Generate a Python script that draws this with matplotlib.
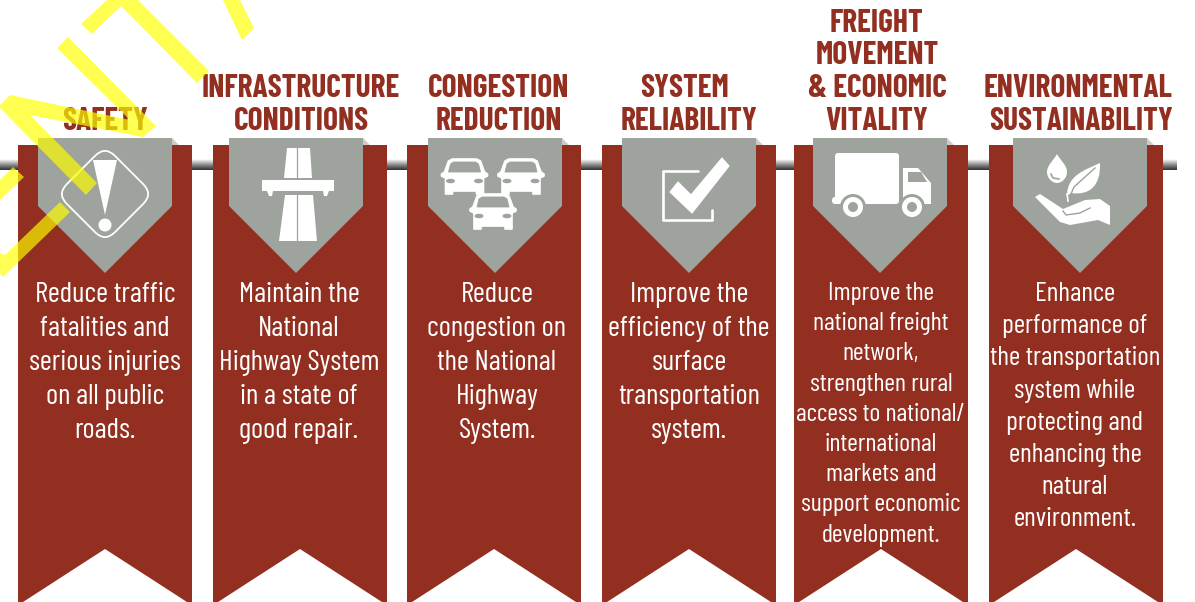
import numpy as np
import matplotlib
matplotlib.use("Agg")
import matplotlib.pyplot as plt
from matplotlib.patches import Polygon, Circle, Ellipse, FancyBboxPatch, PathPatch
from matplotlib.path import Path
from matplotlib.transforms import Affine2D

plt.rcParams["font.family"] = ["Barlow Condensed", "Roboto Condensed", "Liberation Sans", "DejaVu Sans"]

# --- content ---
titles = [
    ["SAFETY"],
    ["INFRASTRUCTURE", "CONDITIONS"],
    ["CONGESTION", "REDUCTION"],
    ["SYSTEM", "RELIABILITY"],
    ["FREIGHT", "MOVEMENT", "& ECONOMIC", "VITALITY"],
    ["ENVIRONMENTAL", "SUSTAINABILITY"],
]
bodies = [
    ["Reduce traffic", "fatalities and", "serious injuries", "on all public", "roads."],
    ["Maintain the", "National", "Highway System", "in a state of", "good repair."],
    ["Reduce", "congestion on", "the National", "Highway", "System."],
    ["Improve the", "efficiency of the", "surface", "transportation", "system."],
    ["Improve the", "national freight", "network,", "strengthen rural", "access to national/",
     "international", "markets and", "support economic", "development."],
    ["Enhance", "performance of", "the transportation", "system while", "protecting and",
     "enhancing the", "natural", "environment."],
]

# --- layout, in pixels of the 1195x602 picture ---
RED = "#922F20"
GRAY = "#9EA39D"
FOLD = "#C9CCC7"
banner_left = [18, 213, 407, 602, 794, 989]
banner_w = 174
plate_left = [38, 229, 428, 622, 813, 1013]
plate_w = 134
body_center = [105, 299, 497, 689, 881, 1075]
body_size = [29, 29, 29, 29, 26, 27.5]
body_start = [302, 302, 302, 302, 300, 301]
body_step = [34, 34, 34, 34, 30.2, 32.2]
title_centers = [[105], [301, 301], [499, 499], [685, 689], [877, 877, 877, 877], [1078, 1081]]


def px(v):
    return v * 0.72  # pixels to points at dpi 100


fig = plt.figure(figsize=(11.95, 6.02), dpi=100)
ax = fig.add_axes([0, 0, 1, 1])

# the rod behind the banners
rod = np.linspace(0, 1, 32).reshape(-1, 1)
rod_cmap = matplotlib.colors.LinearSegmentedColormap.from_list(
    "rod", ["#FFFFFF", "#B5B5B5", "#6E6E6E", "#333333"])
ax.imshow(rod, extent=(0, 1177, 170, 159), cmap=rod_cmap, aspect="auto", zorder=1)
ax.set_xlim(0, 1195)
ax.set_ylim(602, 0)
ax.axis("off")


def white_poly(pts, color="white", z=5):
    ax.add_patch(Polygon(pts, closed=True, fc=color, ec="none", zorder=z))


for i in range(6):
    x0 = banner_left[i]
    x1 = x0 + banner_w
    mid = (x0 + x1) / 2
    white_poly([(x0, 145), (x1, 145), (x1, 602), (x1 - 5, 602), (mid, 549), (x0 + 5, 602), (x0, 602)], RED, 2)
    p0 = plate_left[i]
    p1 = p0 + plate_w
    pc = (p0 + p1) / 2
    white_poly([(p1, 138), (p1 + 7, 145), (p1, 145)], FOLD, 3)
    white_poly([(p0, 138), (p1, 138), (p1, 206), (pc, 273), (p0, 206)], GRAY, 3)

    # heading, last line sits on the same baseline for all banners
    n = len(titles[i])
    for j, line in enumerate(titles[i]):
        ax.text(title_centers[i][j], 129.5 - 32.5 * (n - 1 - j), line, color=RED, ha="center", va="baseline",
                fontsize=px(31.5), fontweight="bold", zorder=4)
    for j, line in enumerate(bodies[i]):
        ax.text(body_center[i], body_start[i] + body_step[i] * j, line, color="white", ha="center", va="baseline",
                fontsize=px(body_size[i]), zorder=4)

# warning icon
diamond = FancyBboxPatch((105 - 20, 194 - 20), 40, 40, boxstyle="round,pad=14,rounding_size=14",
                         fc="none", ec="white", lw=1.3, zorder=5)
diamond.set_transform(Affine2D().rotate_deg_around(105, 194, 45) + ax.transData)
ax.add_patch(diamond)
white_poly([(93, 160), (117, 160), (105, 215)])
ax.add_patch(Circle((105, 225), 6.5, fc="white", ec="none", zorder=5))

# road icon
white_poly([(287, 148), (310, 148), (312, 178), (284, 178)])
white_poly([(285, 195), (313, 195), (317, 241), (279, 241)])
white_poly([(262, 180), (334, 180), (334, 191), (262, 191)])
white_poly([(267, 191), (273, 191), (272, 196), (269, 196)])
white_poly([(323, 191), (329, 191), (327, 196), (324, 196)])
for yy in [(148, 178), (195, 241)]:
    ax.plot([297.5, 297.5], yy, color=GRAY, lw=0.9, zorder=6)


def car(cx, top):
    shape = [(-12, 1), (12, 1), (16, 3), (20, 14), (23, 16), (23, 18), (19, 20), (19, 36), (12, 36), (12, 33),
             (-12, 33), (-12, 36), (-19, 36), (-19, 20), (-23, 18), (-23, 16), (-20, 14), (-16, 3)]
    ax.add_patch(Polygon([(cx + a, top + b) for a, b in shape], closed=True, fc="white", ec="white",
                         lw=1.2, joinstyle="round", zorder=5))
    glass = [(-11, 4), (11, 4), (14, 6), (16, 14), (-16, 14), (-14, 6)]
    ax.add_patch(Polygon([(cx + a, top + b) for a, b in glass], closed=True, fc=GRAY, ec=GRAY,
                         lw=0.6, joinstyle="round", zorder=6))
    for side in (-1, 1):
        ax.add_patch(Ellipse((cx + side * 14, top + 23), 9, 4.5, fc=GRAY, ec="none", zorder=6))


car(464.5, 158)
car(521, 158)
car(493, 193)

# check icon
ax.plot([698, 663, 663, 712, 712], [171, 171, 220, 220, 210], color="white", lw=1.9,
        solid_joinstyle="round", solid_capstyle="round", zorder=5)
ax.add_patch(Polygon([(670, 192), (678, 182), (691, 195), (722, 158), (729, 166), (692, 213)], closed=True,
                     fc="white", ec="white", lw=0.8, joinstyle="round", zorder=5))

# truck icon
ax.add_patch(FancyBboxPatch((837, 155), 60, 47, boxstyle="round,pad=2,rounding_size=3", fc="white", ec="none", zorder=5))
white_poly([(903, 168), (918, 168), (931, 183), (931, 204), (903, 204)])
white_poly([(908, 172), (921, 172), (927, 182), (908, 182)], GRAY, 6)
ax.add_patch(FancyBboxPatch((833, 198), 8, 5, boxstyle="round,pad=1,rounding_size=3", fc="white", ec="none", zorder=5))
for wx in (853, 912):
    ax.add_patch(Circle((wx, 207), 13, fc=GRAY, ec="none", zorder=6))
    ax.add_patch(Circle((wx, 207), 10, fc="white", ec="none", zorder=7))
    ax.add_patch(Circle((wx, 207), 5, fc=GRAY, ec="none", zorder=8))

# plant icon
drop = Path([(1057, 154), (1060, 160), (1067, 165), (1067, 172), (1067, 178), (1062, 183), (1057, 183),
             (1052, 183), (1047, 178), (1047, 172), (1047, 165), (1054, 160), (1057, 154)],
            [Path.MOVETO] + [Path.CURVE4] * 12)
ax.add_patch(PathPatch(drop, fc="white", ec="none", zorder=5))
ax.plot([1051, 1053, 1059], [174, 178, 179], color=GRAY, lw=1.2, zorder=6)
leaf = Path([(1067, 196), (1067, 175), (1085, 170), (1100, 163), (1101, 185), (1090, 196), (1071, 193), (1067, 196)],
            [Path.MOVETO] + [Path.CURVE4] * 6 + [Path.LINETO])
ax.add_patch(PathPatch(leaf, fc="white", ec="none", zorder=5))
ax.plot([1068, 1074, 1085, 1095], [201, 187, 177, 168], color=GRAY, lw=1, zorder=6)
ax.plot([1068, 1067], [201, 194], color="white", lw=1.2, zorder=6)
white_poly([(1035, 197), (1040, 194), (1063, 209), (1085, 200), (1100, 199), (1110, 206), (1110, 225),
            (1098, 220), (1070, 225), (1060, 222)])
ax.plot([1063, 1066, 1080, 1090], [211, 215, 213, 208], color=GRAY, lw=1, zorder=6)

# yellow draft stamp on top of everything at the left
YELLOW = (1, 1, 0, 0.68)
stamp = [
    [(81, 24), (107, 0), (138, 0), (209, 71), (197, 83), (121, 6), (92, 34)],
    [(68, 37), (156, 126), (143, 137), (30, 115), (97, 183), (86, 195), (0, 108), (0, 105), (10, 95), (130, 120), (57, 48)],
    [(223, 0), (240, 0), (254, 28), (242, 40)],
    [(13, 167), (24, 177), (0, 200), (0, 180)],
    [(60, 202), (70, 212), (3, 277), (0, 273), (0, 253), (5, 255)],
]
for pts in stamp:
    ax.add_patch(Polygon(pts, closed=True, fc=YELLOW, ec="none", zorder=10))

fig.savefig("out.png", dpi=100)
